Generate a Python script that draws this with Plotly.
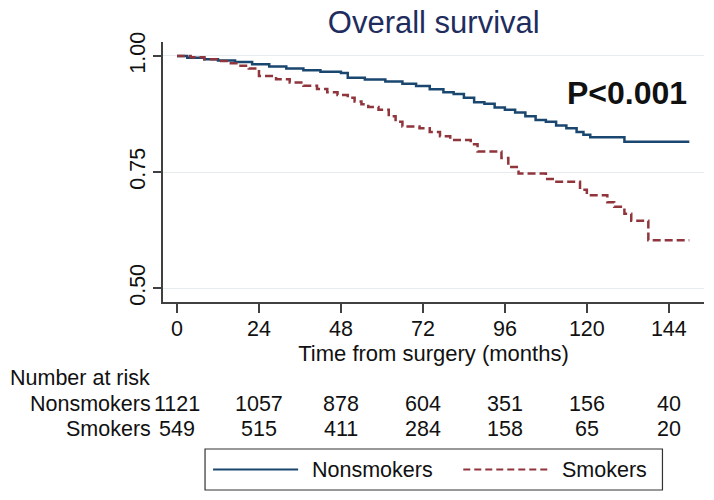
import plotly.graph_objects as go

# ---- data ----
months_non = [0, 3, 8, 12, 17, 22, 27, 32, 37, 42, 48, 50, 55, 61, 66, 70, 74, 78, 81, 84,
              87, 90, 93, 96, 99, 102, 105, 108, 111, 114, 117, 119, 121, 131, 150]
surv_non = [1.0, 0.996, 0.993, 0.990, 0.987, 0.982, 0.977, 0.973, 0.969, 0.966, 0.963, 0.953,
            0.949, 0.945, 0.940, 0.935, 0.928, 0.922, 0.918, 0.910, 0.900, 0.897, 0.889, 0.884,
            0.878, 0.870, 0.862, 0.858, 0.850, 0.844, 0.836, 0.830, 0.825, 0.815, 0.815]

months_smk = [0, 4, 8, 12, 15, 18, 21, 24, 29, 33, 37, 41, 44, 47, 50, 52, 54, 56, 59, 62, 64,
              66, 71, 74, 77, 80, 86, 88, 95, 97, 100, 108, 110, 118, 120, 126, 128, 131, 133,
              138, 150]
surv_smk = [1.0, 0.997, 0.993, 0.989, 0.984, 0.979, 0.973, 0.957, 0.950, 0.943, 0.936, 0.929,
            0.922, 0.916, 0.910, 0.902, 0.896, 0.890, 0.884, 0.870, 0.858, 0.848, 0.844, 0.836,
            0.827, 0.819, 0.810, 0.794, 0.780, 0.761, 0.747, 0.735, 0.729, 0.712, 0.700, 0.685,
            0.675, 0.660, 0.645, 0.603, 0.603]

tick_months = [0, 24, 48, 72, 96, 120, 144]
y_ticks = [0.50, 0.75, 1.00]
y_tick_labels = ["0.50", "0.75", "1.00"]
risk_non = [1121, 1057, 878, 604, 351, 156, 40]
risk_smk = [549, 515, 411, 284, 158, 65, 20]
group_names = ["Nonsmokers", "Smokers"]
title_text = "Overall survival"
pvalue_text = "P<0.001"
x_title = "Time from surgery (months)"

BLUE = "#1a476f"
RED = "#90353b"
FONT = "Liberation Sans, Arial, sans-serif"
FS = 21.5

fig = go.Figure()
fig.add_trace(go.Scatter(x=months_non, y=surv_non, mode="lines", line_shape="hv",
                         name=group_names[0], line=dict(color=BLUE, width=2.5),
                         showlegend=False))
fig.add_trace(go.Scatter(x=months_smk, y=surv_smk, mode="lines", line_shape="hv",
                         name=group_names[1], line=dict(color=RED, width=2.5, dash="8px,4px"),
                         showlegend=False))

fig.update_layout(
    width=714, height=500,
    margin=dict(l=163, r=10, t=42, b=198),
    paper_bgcolor="white", plot_bgcolor="white",
    font=dict(family=FONT, size=FS, color="#111111"),
    title=dict(text=title_text, x=0.5005, xref="paper", y=1 - 22 / 500, yref="container",
               xanchor="center", yanchor="middle",
               font=dict(family=FONT, size=31, color="#1e2d5e")),
    xaxis=dict(range=[-4.1, 154.3], tickvals=tick_months, showgrid=False, zeroline=False,
               showline=True, linecolor="#404040", linewidth=1.5,
               ticks="outside", ticklen=9, tickcolor="#404040", tickwidth=1.5,
               ticklabelstandoff=-3,
               tickfont=dict(size=FS, color="#111111"),
               title=dict(text=x_title, standoff=0, font=dict(size=22, color="#111111"))),
    yaxis=dict(range=[0.47, 1.03], tickvals=y_ticks, ticktext=y_tick_labels, tickangle=-90,
               showgrid=True, gridcolor="#e6ecee", gridwidth=1, zeroline=False,
               showline=True, linecolor="#404040", linewidth=1.5,
               ticks="outside", ticklen=8, tickcolor="#404040", tickwidth=1.5,
               tickfont=dict(size=FS, color="#111111")),
)

# P value
fig.add_annotation(text="<b>" + pvalue_text + "</b>", xref="paper", yref="paper",
                   x=0.973, y=0.804, xanchor="right", yanchor="middle", showarrow=False,
                   font=dict(family=FONT, size=32, color="#111111"))

# number at risk table
def py_to_paper(py):
    return (302 - py) / 260.0

def px_to_paper(px):
    return (px - 163) / 540.5

fig.add_annotation(text="Number at risk", xref="paper", yref="paper",
                   x=px_to_paper(8), y=py_to_paper(378), xanchor="left", yanchor="middle",
                   showarrow=False, font=dict(size=FS))
for name, counts, py in [(group_names[0], risk_non, 404), (group_names[1], risk_smk, 429)]:
    fig.add_annotation(text=name, xref="paper", yref="paper", x=px_to_paper(153),
                       y=py_to_paper(py), xanchor="right", yanchor="middle",
                       showarrow=False, font=dict(size=FS))
    for m, c in zip(tick_months, counts):
        fig.add_annotation(text=str(c), xref="x", yref="paper", x=m, y=py_to_paper(py),
                           xanchor="center", yanchor="middle", showarrow=False,
                           font=dict(size=FS))

# legend (drawn manually)
fig.add_shape(type="rect", xref="paper", yref="paper",
              x0=px_to_paper(205), x1=px_to_paper(662), y0=py_to_paper(449), y1=py_to_paper(490),
              line=dict(color="#333333", width=1.2), fillcolor="white")
ly = py_to_paper(469.5)
fig.add_shape(type="line", xref="paper", yref="paper", x0=px_to_paper(213), x1=px_to_paper(298),
              y0=ly, y1=ly, line=dict(color=BLUE, width=2))
fig.add_shape(type="line", xref="paper", yref="paper", x0=px_to_paper(463), x1=px_to_paper(550),
              y0=ly, y1=ly, line=dict(color=RED, width=2, dash="7px,4px"))
fig.add_annotation(text=group_names[0], xref="paper", yref="paper", x=px_to_paper(310), y=ly,
                   xanchor="left", yanchor="middle", showarrow=False, font=dict(size=FS))
fig.add_annotation(text=group_names[1], xref="paper", yref="paper", x=px_to_paper(560), y=ly,
                   xanchor="left", yanchor="middle", showarrow=False, font=dict(size=FS))

fig.write_html("out.html", config={"displayModeBar": False},
               post_script="document.body.style.margin='0';")
